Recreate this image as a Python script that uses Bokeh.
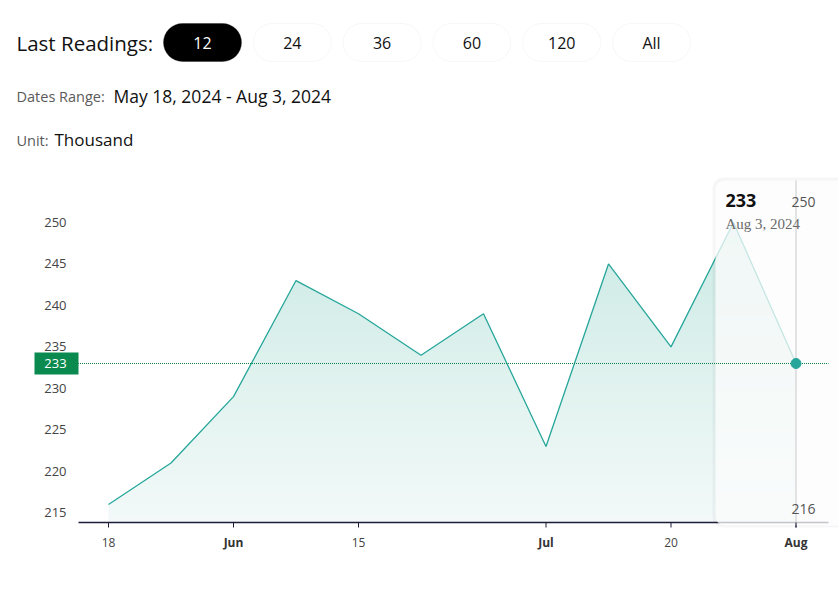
import numpy as np
from bokeh.plotting import figure
from bokeh.models import Range1d, BoxAnnotation, Label
from bokeh.core.properties import value
from bokeh.embed import file_html
from bokeh.resources import INLINE

# ---------------- data ----------------
dates = ["May 18", "May 25", "Jun 1", "Jun 8", "Jun 15", "Jun 22",
         "Jun 29", "Jul 6", "Jul 13", "Jul 20", "Jul 27", "Aug 3"]
values = [216, 221, 229, 243, 239, 234, 239, 223, 245, 235, 250, 233]
tick_index = [0, 2, 4, 7, 9, 11]
tick_labels = ["18", "Jun", "15", "Jul", "20", "Aug"]
month_labels = ["Jun", "Jul", "Aug"]
y_ticks = [215, 220, 225, 230, 235, 240, 245, 250]
buttons = ["12", "24", "36", "60", "120", "All"]
active_button = "12"
date_range_text = "May 18, 2024 - Aug 3, 2024"
unit_text = "Thousand"
last_date_text = "Aug 3, 2024"

idx = list(range(len(values)))
last_i, last_v = idx[-1], values[-1]

# ---------------- scales: the frame covers the whole canvas ----------------
W, H = 838, 607
PX_PER_STEP = 62.5          # horizontal pixels per weekly reading
X_FIRST_PX = 108            # pixel column of the first reading
PX_PER_UNIT = 8.294         # vertical pixels per thousand
Y250_PX = 222.0             # pixel row of the value 250
XS = -X_FIRST_PX / PX_PER_STEP
XE = XS + W / PX_PER_STEP
YE = 250 + Y250_PX / PX_PER_UNIT
YS = YE - H / PX_PER_UNIT

# plot-area edges in canvas pixels
FL, FR, FT, FB = 78, 828, 180, 522


def X(px):
    return XS + px / PX_PER_STEP


def Y(py):
    return YE - py / PX_PER_UNIT


p = figure(width=W, height=H, x_range=Range1d(XS, XE), y_range=Range1d(YS, YE),
           x_axis_type=None, y_axis_type=None,
           output_backend="svg", toolbar_location=None,
           min_border=0, min_border_left=0, min_border_right=0,
           min_border_top=0, min_border_bottom=0)
p.xgrid.visible = False
p.ygrid.visible = False
p.outline_line_color = None
p.background_fill_color = "white"
p.border_fill_color = "white"

FONT = value("Open Sans")

# ---------------- gradient area under the line ----------------
n = 256
img = np.empty((n, 2), dtype=np.uint32)
view = img.view(dtype=np.uint8).reshape((n, 2, 4))
bottom_c = np.array([243, 250, 249])
top_c = np.array([199, 232, 226])
for i in range(n):
    t = i / (n - 1)
    c = bottom_c + (top_c - bottom_c) * t
    view[i, :, 0] = int(c[0])
    view[i, :, 1] = int(c[1])
    view[i, :, 2] = int(c[2])
    view[i, :, 3] = 255
area_bottom = Y(FB)
area_top = Y(FT)
p.image_rgba(image=[img], x=idx[0], y=area_bottom, dw=idx[-1] - idx[0],
             dh=area_top - area_bottom)
# white mask above the line (extended a bit sideways so no seams show)
mask_x = [idx[0] - 0.3] + idx + [idx[-1] + 0.3]
mask_y = [values[0]] + values + [values[-1]]
p.varea(x=mask_x, y1=mask_y, y2=[Y(FT - 6)] * len(mask_x), fill_color="white",
        fill_alpha=1.0)
p.line(idx, values, line_color="#26a69a", line_width=1.3)

# ---------------- x axis ----------------
AXIS_C = "#1d1d3b"
p.segment(x0=[X(FL)], y0=[Y(FB)], x1=[X(FR)], y1=[Y(FB)], line_color=AXIS_C,
          line_width=1.5)
p.segment(x0=tick_index, y0=[Y(FB)] * len(tick_index), x1=tick_index,
          y1=[Y(FB + 5)] * len(tick_index), line_color=AXIS_C, line_width=1)
day_i = [i for i, l in zip(tick_index, tick_labels) if l not in month_labels]
day_l = [l for l in tick_labels if l not in month_labels]
mon_i = [i for i, l in zip(tick_index, tick_labels) if l in month_labels]
mon_l = [l for l in tick_labels if l in month_labels]
p.text(x=day_i, y=[Y(542)] * len(day_i), text=day_l, text_align="center",
       text_baseline="middle", text_font=FONT, text_font_size="12px",
       text_color="#444444")
p.text(x=mon_i, y=[Y(542)] * len(mon_i), text=mon_l, text_align="center",
       text_baseline="middle", text_font=FONT, text_font_size="12px",
       text_font_style="bold", text_color="#333333")

# ---------------- y axis labels ----------------
p.text(x=[X(66)] * len(y_ticks), y=y_ticks, text=[str(t) for t in y_ticks],
       text_align="right", text_baseline="middle", text_font=FONT,
       text_font_size="13px", text_color="#444444")

# ---------------- tooltip overlay ----------------
p.add_layout(BoxAnnotation(left=X(712), right=X(860), top=Y(177), bottom=Y(527),
                           fill_color="black", fill_alpha=0.035, line_color=None,
                           border_radius=11))
p.add_layout(BoxAnnotation(left=X(715), right=X(860), top=Y(FT), bottom=Y(525),
                           fill_color="white", fill_alpha=0.74, line_color=None,
                           border_radius=9))
p.segment(x0=[last_i], y0=[Y(FT)], x1=[last_i], y1=[Y(FB)], line_color="#c9c9c9",
          line_width=1, level="overlay")
p.segment(x0=[last_i], y0=[Y(FB)], x1=[last_i], y1=[Y(FB + 5)], line_color=AXIS_C,
          line_width=1, level="overlay")
p.segment(x0=[X(FL - 0.5)], y0=[last_v], x1=[X(FR)], y1=[last_v], line_color="#0e8049",
          line_width=1, line_dash="1 1", level="overlay")
p.scatter([last_i], [last_v], size=10, fill_color="#26a69a", line_color="#26a69a",
          level="overlay")

p.add_layout(Label(x=X(725), y=Y(200), text=str(last_v), text_baseline="middle",
                   text_font="Open Sans", text_font_size="18px", text_font_style="bold",
                   text_color="#111111", level="overlay"))
p.add_layout(Label(x=X(725), y=Y(223), text=last_date_text, text_baseline="middle",
                   text_font="Liberation Serif", text_font_size="15px",
                   text_color="#6b6b6b", level="overlay"))
p.add_layout(Label(x=X(815), y=Y(201), text=str(max(values)), text_baseline="middle",
                   text_align="right", text_font="Open Sans", text_font_size="14px",
                   text_color="#555555", level="overlay"))
p.add_layout(Label(x=X(815), y=Y(508), text=str(min(values)), text_baseline="middle",
                   text_align="right", text_font="Open Sans", text_font_size="14px",
                   text_color="#555555", level="overlay"))

# ---------------- last value tag on the y axis ----------------
p.add_layout(BoxAnnotation(left=X(34), right=X(FL), top=Y(352), bottom=Y(374),
                           fill_color="#0b8a4f", fill_alpha=1.0, line_color=None,
                           level="overlay"))
p.add_layout(Label(x=X(55), y=Y(363), text=str(last_v), text_align="center",
                   text_baseline="middle", text_font="Open Sans", text_font_size="13px",
                   text_color="white", level="overlay"))
p.segment(x0=[X(71)], y0=[last_v], x1=[X(75)], y1=[last_v], line_color="white",
          line_width=1, level="overlay")

# ---------------- header ----------------
p.add_layout(Label(x=X(16), y=Y(42), text="Last Readings:", text_baseline="middle",
                   text_font="Open Sans", text_font_size="20.5px", text_color="#111111"))
pill_left = 163
pill_w = 78
pill_step = 89.8
for k, b in enumerate(buttons):
    l = pill_left + k * pill_step
    active = (b == active_button)
    p.add_layout(BoxAnnotation(left=X(l), right=X(l + pill_w), top=Y(23), bottom=Y(61),
                               fill_color="black" if active else "white", fill_alpha=1.0,
                               line_color="black" if active else "#e4e4e4", line_width=1,
                               border_radius=19))
    p.add_layout(Label(x=X(l + pill_w / 2), y=Y(42), text=b, text_align="center",
                       text_baseline="middle", text_font="Open Sans", text_font_size="16px",
                       text_color="white" if active else "#111111", level="overlay"))

p.add_layout(Label(x=X(16), y=Y(96), text="Dates Range:", text_baseline="middle",
                   text_font="Open Sans", text_font_size="14.5px", text_color="#5a5a5a"))
p.add_layout(Label(x=X(113), y=Y(95), text=date_range_text, text_baseline="middle",
                   text_font="Open Sans", text_font_size="17.5px", text_color="#111111"))
p.add_layout(Label(x=X(16), y=Y(140), text="Unit:", text_baseline="middle",
                   text_font="Open Sans", text_font_size="14.5px", text_color="#5a5a5a"))
p.add_layout(Label(x=X(54), y=Y(139), text=unit_text, text_baseline="middle",
                   text_font="Open Sans", text_font_size="17px", text_color="#111111"))

open("out.html", "w").write(file_html(p, INLINE))
